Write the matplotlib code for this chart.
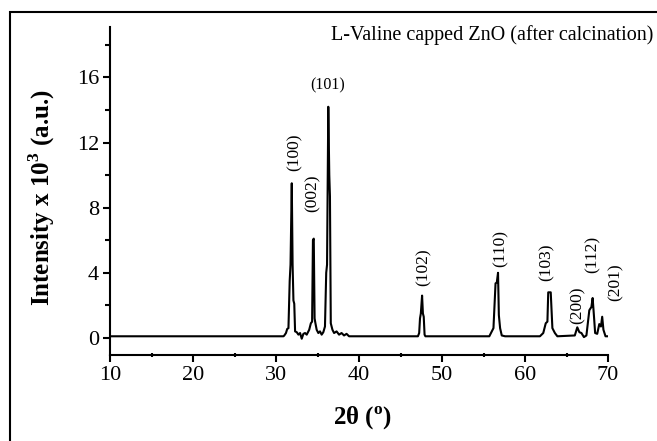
import matplotlib
matplotlib.use("Agg")
import matplotlib.pyplot as plt
from matplotlib.patches import Rectangle
from matplotlib.ticker import MultipleLocator

plt.rcParams['font.family'] = ['Liberation Serif', 'DejaVu Serif']
plt.rcParams['mathtext.fontset'] = 'custom'
plt.rcParams['mathtext.rm'] = 'Liberation Serif'
plt.rcParams['mathtext.bf'] = 'Liberation Serif:bold'

# XRD pattern (2theta in degrees, intensity x 10^3)
two_theta = [10.0, 30.9, 31.0, 31.2, 31.35, 31.5, 31.65, 31.75, 31.9, 32.0, 32.1, 32.2,
             32.3, 32.5, 32.7, 32.9, 33.1, 33.3, 33.5, 33.7, 34.0, 34.2, 34.35, 34.45,
             34.55, 34.65, 34.75, 34.9, 35.1, 35.3, 35.5, 35.7, 35.9, 36.05, 36.15, 36.3,
             36.42, 36.5, 36.6, 36.8, 37.0, 37.3, 37.6, 37.9, 38.2, 38.5, 38.8,
             47.1, 47.25, 47.35, 47.45, 47.6, 47.7, 47.8, 47.9, 48.0,
             55.7, 55.9, 56.2, 56.45, 56.6, 56.75, 56.85, 57.0, 57.2, 57.6,
             61.8, 62.2, 62.5, 62.7, 62.8, 63.1, 63.3, 63.6, 63.9,
             66.0, 66.3, 66.55, 66.8, 67.1, 67.4, 67.75, 68.0, 68.15, 68.3, 68.45, 68.7,
             68.95, 69.15, 69.3, 69.45, 69.7, 70.0]
intensity = [0.1, 0.1, 0.15, 0.3, 0.55, 0.6, 3.5, 4.5, 9.5, 4.5, 2.3, 2.1,
             0.4, 0.35, 0.2, 0.3, -0.05, 0.25, 0.3, 0.2, 0.5, 0.9, 1.0, 6.0,
             6.1, 1.2, 0.9, 0.5, 0.3, 0.4, 0.2, 0.35, 0.7, 4.0, 4.5, 14.2,
             10.0, 8.7, 0.9, 0.5, 0.3, 0.4, 0.2, 0.3, 0.15, 0.25, 0.1,
             0.1, 0.3, 1.2, 1.5, 2.6, 1.5, 1.3, 0.2, 0.1,
             0.1, 0.3, 0.6, 3.35, 3.4, 4.0, 1.4, 0.6, 0.15, 0.1,
             0.1, 0.3, 0.9, 1.0, 2.8, 2.8, 0.6, 0.3, 0.1,
             0.15, 0.65, 0.35, 0.3, 0.05, 0.15, 1.7, 1.9, 2.45, 1.4, 0.3, 0.25,
             0.85, 0.7, 1.3, 0.5, 0.1, 0.1]

# (hkl) labels and where they sit
hkl = ['(100)', '(002)', '(101)', '(102)', '(110)', '(103)', '(200)', '(112)', '(201)']
hkl_x = [32.3, 34.45, 36.27, 47.83, 57.1, 62.65, 66.4, 68.2, 70.95]
hkl_y = [11.4, 8.9, 15.5, 4.35, 5.5, 4.65, 2.0, 5.1, 3.45]
hkl_rot = [90, 90, 0, 90, 90, 90, 90, 90, 90]

fig = plt.figure(figsize=(6.57, 4.41), dpi=100)
ax = fig.add_axes([110 / 657, 1 - 355 / 441, 498 / 657, 328 / 441])

ax.plot(two_theta, intensity, color='black', lw=1.5)

for lab, x, y, r in zip(hkl, hkl_x, hkl_y, hkl_rot):
    ax.text(x, y, lab, rotation=r, ha='center', va='center',
            fontsize=11.5 if r == 0 else 12.5)

ax.set_xlim(10, 70)
ax.set_ylim(-1.05, 19.1)
ax.xaxis.set_major_locator(MultipleLocator(10))
ax.xaxis.set_minor_locator(MultipleLocator(5))
ax.yaxis.set_major_locator(MultipleLocator(4))
ax.yaxis.set_minor_locator(MultipleLocator(2))
for s in ['top', 'right']:
    ax.spines[s].set_visible(False)
for s in ['left', 'bottom']:
    ax.spines[s].set_linewidth(1.5)
ax.tick_params(which='major', direction='out', length=5, width=1.5, labelsize=16, pad=3)
ax.tick_params(axis='x', which='minor', direction='inout', length=3, width=1.5)
ax.tick_params(axis='y', which='minor', direction='out', length=3.5, width=1.5)

fig.text(42 / 657, 1 - 198 / 441, r'Intensity x 10$^\mathbf{3}$ (a.u.)', rotation=90,
         ha='center', va='center', fontsize=18, fontweight='bold')
fig.text(363 / 657, 1 - 418 / 441, r'2θ ($^\mathbf{o}$)', ha='center', va='center',
         fontsize=18, fontweight='bold')
fig.text(653 / 657, 1 - 35 / 441, 'L-Valine capped ZnO (after calcination)',
         ha='right', va='center', fontsize=14.5)

# outer frame (only top and left edges are inside the picture)
fig.patches.append(Rectangle((10 / 657, -0.2), 1.2, 1.2 - 12 / 441, fill=False,
                             lw=1.5, ec='black', transform=fig.transFigure))

fig.savefig('out.png', dpi=100)
